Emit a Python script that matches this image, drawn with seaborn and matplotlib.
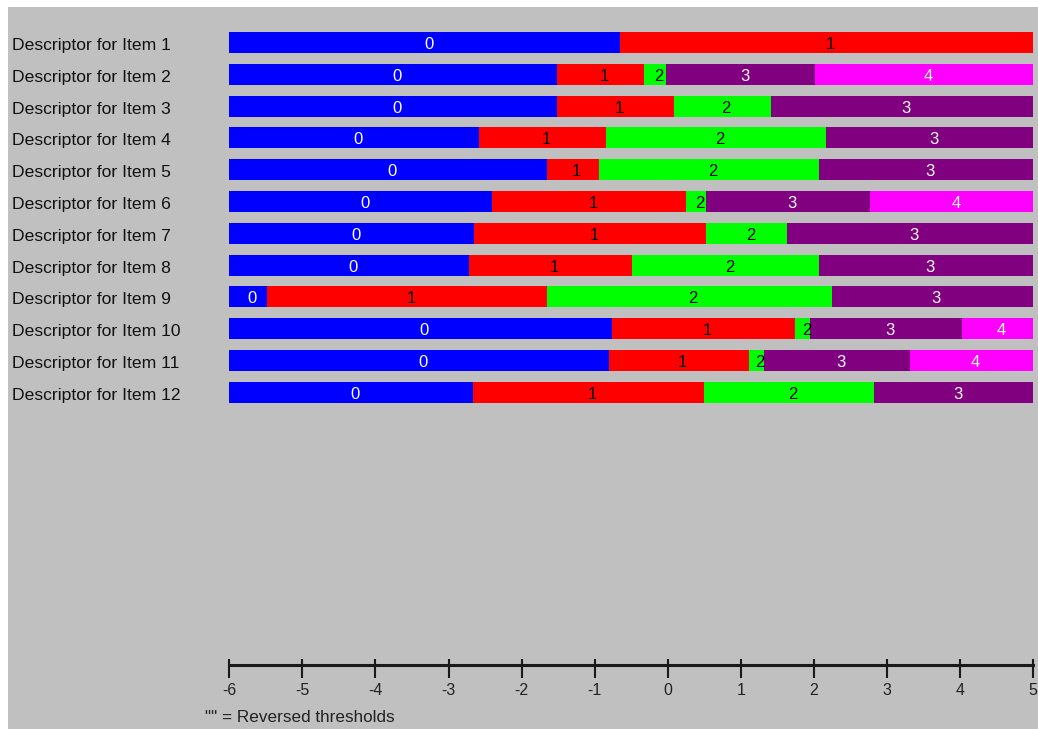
import numpy as np
import pandas as pd
import matplotlib
matplotlib.use("Agg")
import matplotlib.pyplot as plt
import matplotlib.transforms as mtransforms
from matplotlib.ticker import FixedLocator
import seaborn as sns

# ---- data ----
items = [f"Descriptor for Item {i}" for i in range(1, 13)]
x_min, x_max = -6, 5
# threshold between category k and k+1 for each item (nan = not present)
thr_0_1 = [-0.65, -1.51, -1.51, -2.59, -1.66, -2.40, -2.65, -2.72, -5.48, -0.77, -0.81, -2.66]
thr_1_2 = [np.nan, -0.33, 0.08, -0.85, -0.94, 0.25, 0.52, -0.49, -1.66, 1.74, 1.11, 0.49]
thr_2_3 = [np.nan, -0.03, 1.41, 2.16, 2.07, 0.52, 1.63, 2.07, 2.24, 1.94, 1.31, 2.82]
thr_3_4 = [np.nan, 2.02, np.nan, np.nan, np.nan, 2.77, np.nan, np.nan, np.nan, 4.02, 3.31, np.nan]
categories = ["0", "1", "2", "3", "4"]
cat_colors = ["#0000ff", "#ff0000", "#00ff00", "#800080", "#ff00ff"]
text_colors = ["white", "black", "black", "white", "white"]
x_ticks = list(range(-6, 6))
footnote = '"" = Reversed thresholds'

sns.set_theme(style="white")
plt.rcParams["font.family"] = ["Liberation Sans", "DejaVu Sans"]
plt.rcParams["axes.unicode_minus"] = False

W, H = 1038, 729
fig = plt.figure(figsize=(W / 100, H / 100), dpi=100)
fig.patch.set_facecolor("white")
# gray panel
bg = plt.Rectangle((8 / W, 0), 1 - 8 / W, 1 - 7 / H, transform=fig.transFigure,
                   facecolor="#c0c0c0", edgecolor="none", zorder=-10)
fig.patches.append(bg)

# build long table of segments
rows = []
thr_table = np.array([thr_0_1, thr_1_2, thr_2_3, thr_3_4], dtype=float).T
for i, name in enumerate(items):
    cuts = [x_min] + [t for t in thr_table[i] if not np.isnan(t)] + [x_max]
    for k in range(len(cuts) - 1):
        rows.append(dict(item=name, row=i, cat=k, left=cuts[k], right=cuts[k + 1]))
seg = pd.DataFrame(rows)

# bar axes
px_left, px_right = 229.3, 1033.3
row0, step = 42.5, 31.79
top_px = row0 - 0.5 * step
bot_px = row0 + 11.5 * step
ax = fig.add_axes([px_left / W, 1 - bot_px / H, (px_right - px_left) / W, (bot_px - top_px) / H])
ax.set_facecolor("none")

label_offset = ax.transData + mtransforms.ScaledTranslation(4 / 100, -2 / 100, fig.dpi_scale_trans)
bar_h = 0.66
for k, cname in enumerate(categories):
    sub = seg[seg["cat"] == k]
    bars = ax.barh(sub["row"], sub["right"] - sub["left"], left=sub["left"], height=bar_h,
                   color=cat_colors[k], edgecolor="none", zorder=2)
    for patch, (_, r) in zip(bars.patches, sub.iterrows()):
        t = ax.text((r["left"] + r["right"]) / 2, r["row"], cname, ha="center", va="center",
                    color=text_colors[k], fontsize=12, zorder=3, transform=label_offset)
        t.set_clip_path(patch)

ax.set_xlim(x_min, x_max)
ax.set_ylim(11.5, -0.5)
ax.set_yticks(range(len(items)))
ax.set_yticklabels([])
ax.set_xticks([])
for s in ax.spines.values():
    s.set_visible(False)
ax.tick_params(left=False, bottom=False)

# row labels
for i, name in enumerate(items):
    fig.text(12 / W, 1 - (row0 + i * step + 7.5) / H, name, ha="left", va="baseline",
             fontsize=12.6, color="#111111")

# measurement axis
axis_y = 665
ax2 = fig.add_axes([px_left / W, 1 - axis_y / H, (px_right - px_left) / W, 0.0001])
ax2.set_facecolor("none")
ax2.set_xlim(x_min, x_max)
ax2.set_yticks([])
for name_s in ["top", "left", "right"]:
    ax2.spines[name_s].set_visible(False)
ax2.spines["bottom"].set_linewidth(2.2)
ax2.spines["bottom"].set_color("#1a1a1a")
ax2.xaxis.remove_overlapping_locs = False
ax2.set_xticks(x_ticks)
ax2.set_xticklabels([str(v) for v in x_ticks])
ax2.xaxis.set_minor_locator(FixedLocator(x_ticks))
ax2.tick_params(axis="x", which="major", direction="out", length=9, width=1.5, color="#1a1a1a",
                pad=4, labelsize=11.5, labelcolor="#222222", bottom=True)
ax2.tick_params(axis="x", which="minor", direction="in", length=4, width=1.5, color="#1a1a1a",
                bottom=True, labelbottom=False)

fig.text(205 / W, 1 - 717 / H, footnote, ha="left", va="center", fontsize=12.3, color="#222222")

fig.savefig("out.png", dpi=100)
